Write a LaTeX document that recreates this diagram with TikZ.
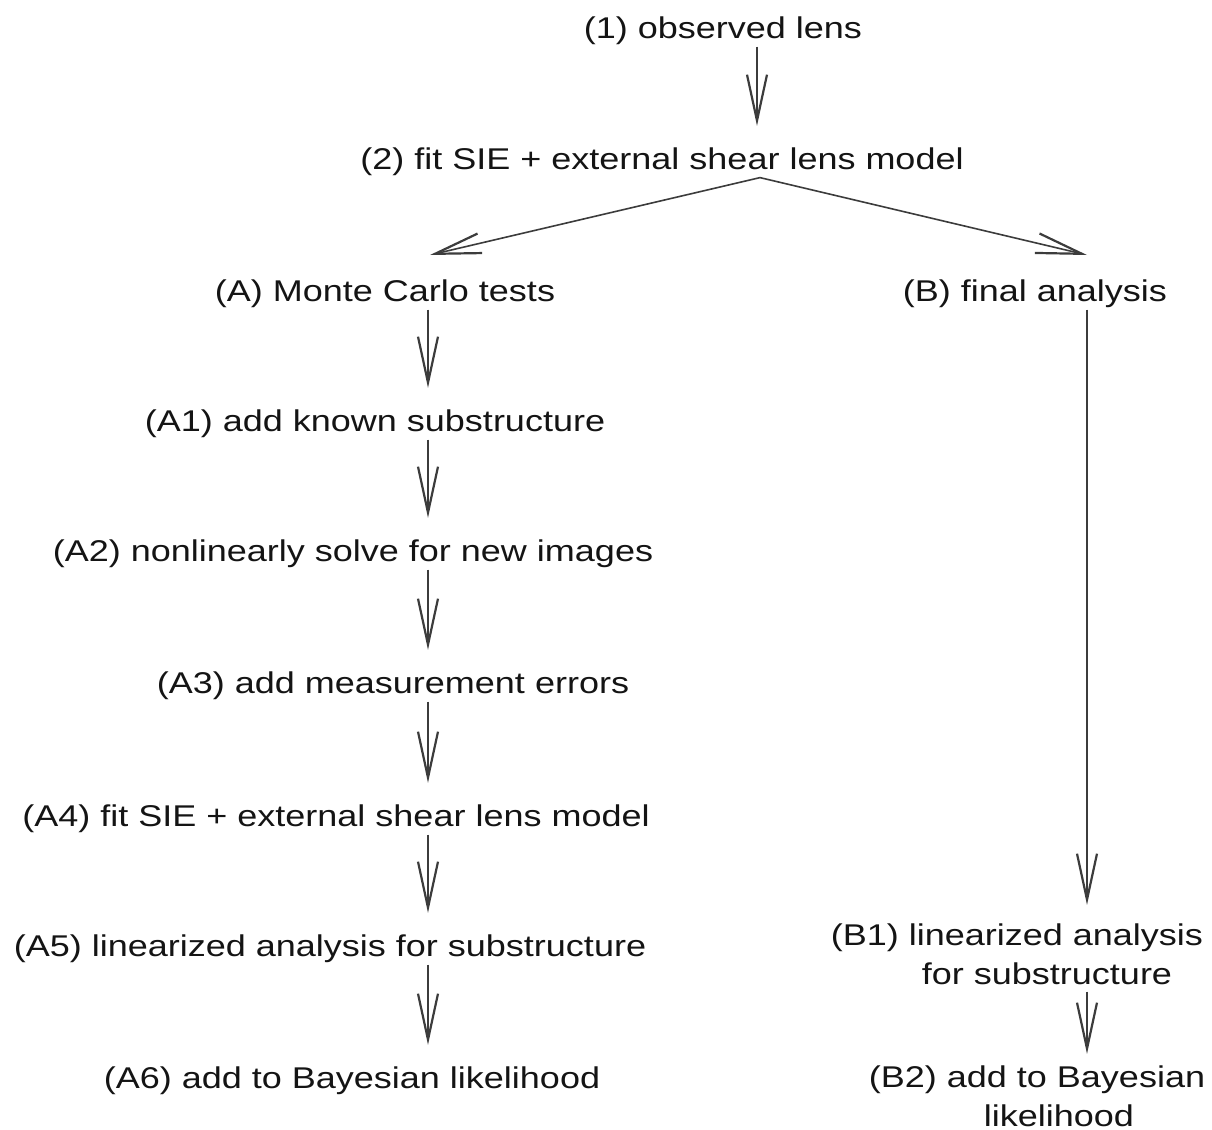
\documentclass[tikz,border=0pt]{standalone}
\usepackage{fontspec}
\setmainfont{Liberation Sans}[FakeStretch=1.2]
\usetikzlibrary{arrows.meta}
\definecolor{ink}{HTML}{141414}
\definecolor{shaft}{HTML}{3C3C3C}

\begin{document}
\begin{tikzpicture}[x=0.5pt,y=-0.5pt,
  every node/.style={font=\fontsize{15}{19.5}\selectfont,text=ink,inner sep=1pt,anchor=base},
  flow/.style={-{Straight Barb[length=23pt,width=10pt,line width=1.1pt]},draw=shaft,line width=0.8pt,shorten >=9.5pt}]
  \useasboundingbox (0,0) rectangle (1212,1130);
  % main trunk
  \node (obs) at (723,38) {(1) observed lens};
  \node (fit) at (662,169) {(2) fit SIE + external shear lens model};
  \node (mc) at (385,301) {(A) Monte Carlo tests};
  \node (fin) at (1035,301) {(B) final analysis};
  % Monte Carlo branch
  \node (a1) at (375,431) {(A1) add known substructure};
  \node (a2) at (353,561) {(A2) nonlinearly solve for new images};
  \node (a3) at (393,693) {(A3) add measurement errors};
  \node (a4) at (336,826) {(A4) fit SIE + external shear lens model};
  \node (a5) at (330,956) {(A5) linearized analysis for substructure};
  \node (a6) at (352,1088) {(A6) add to Bayesian likelihood};
  % final analysis branch (base sits on the last line)
  \node[align=center] (b1) at (1017,984) {(B1) linearized analysis\\\hspace*{30pt}for substructure};
  \node[align=center] (b2) at (1037,1126) {(B2) add to Bayesian\\\hspace*{22pt}likelihood};
  % columns the arrows run down
  \coordinate (top) at (757,0);
  \coordinate (split) at (760,0);
  \coordinate (colA) at (428,0);
  \coordinate (colB) at (1087,0);
  \coordinate (tipA) at (430,255);
  \coordinate (tipB) at (1087,255);
  \draw[flow] (obs.south -| top) -- (fit.north -| top);
  \draw[flow,shorten >=0pt] (fit.south -| split) -- (tipA);
  \draw[flow,shorten >=0pt] (fit.south -| split) -- (tipB);
  \draw[flow] (mc.south -| colA) -- (a1.north -| colA);
  \draw[flow] (a1.south -| colA) -- (a2.north -| colA);
  \draw[flow] (a2.south -| colA) -- (a3.north -| colA);
  \draw[flow] (a3.south -| colA) -- (a4.north -| colA);
  \draw[flow] (a4.south -| colA) -- (a5.north -| colA);
  \draw[flow] (a5.south -| colA) -- (a6.north -| colA);
  \draw[flow,shorten >=8pt] (fin.south -| colB) -- (b1.north -| colB);
  \draw[flow,shorten <=2.5pt,shorten >=4.5pt] (b1.south -| colB) -- (b2.north -| colB);
\end{tikzpicture}
\end{document}
